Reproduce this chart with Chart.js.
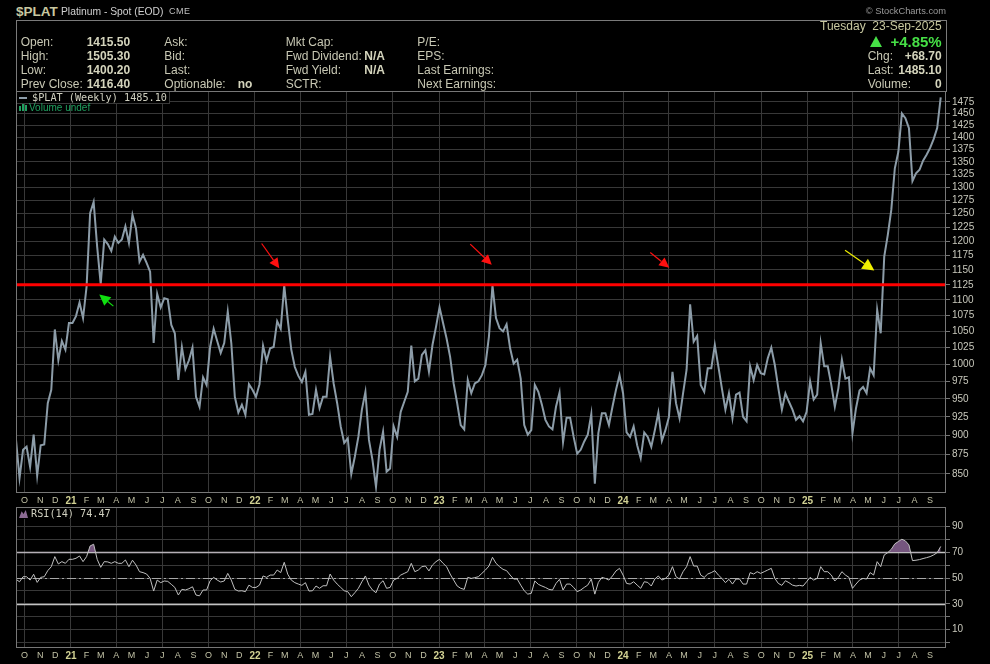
<!DOCTYPE html>
<html>
<head>
<meta charset="utf-8">
<script src="https://cdn.jsdelivr.net/npm/chart.js@4.4.1/dist/chart.umd.min.js"></script>
<style>
  html, body { margin: 0; padding: 0; background: #000; width: 990px; height: 664px; overflow: hidden; }
  canvas { position: absolute; left: 0; }
  .t { position: absolute; white-space: pre; line-height: 1; font-family: "Liberation Sans", Arial, sans-serif; }
  .l { font-size: 12px; color: #c8c8b4; }
  .v { font-size: 12px; color: #d4d4bc; font-weight: bold; }
  .m { font-family: "DejaVu Sans Mono", monospace; font-size: 10.2px; color: #d0d0c0; }
  #box { position: absolute; left: 16px; top: 20px; width: 929px; height: 71px; border: 1px solid #7a7a7a; border-bottom: none; }
</style>
</head>
<body>
<canvas id="priceChart" width="990" height="416" style="top:91px"></canvas>
<canvas id="rsiChart" width="990" height="155" style="top:507px"></canvas>

<div class="t" style="left:16px;top:4.5px;font-size:13.5px;font-weight:bold;color:#c8c8a0">$PLAT</div>
<div class="t" style="left:61px;top:6.6px;font-size:10.3px;color:#d0d0d0">Platinum - Spot (EOD)</div>
<div class="t" style="left:169px;top:7.4px;font-size:9px;letter-spacing:0.5px;color:#c0c0c0">CME</div>
<div class="t" style="right:44px;top:7.1px;font-size:9.3px;color:#9a9a9a">© StockCharts.com</div>

<div id="box"></div>
<div class="t l" style="left:20.7px;top:35.8px">Open:</div>
<div class="t l" style="left:20.7px;top:50px">High:</div>
<div class="t l" style="left:20.7px;top:64.2px">Low:</div>
<div class="t l" style="left:20.7px;top:78.4px">Prev Close:</div>
<div class="t v" style="left:86.7px;top:35.8px">1415.50</div>
<div class="t v" style="left:86.7px;top:50px">1505.30</div>
<div class="t v" style="left:86.7px;top:64.2px">1400.20</div>
<div class="t v" style="left:86.7px;top:78.4px">1416.40</div>
<div class="t l" style="left:164.3px;top:35.8px">Ask:</div>
<div class="t l" style="left:164.3px;top:50px">Bid:</div>
<div class="t l" style="left:164.3px;top:64.2px">Last:</div>
<div class="t l" style="left:164.3px;top:78.4px">Optionable:</div>
<div class="t v" style="left:237.7px;top:78.4px">no</div>
<div class="t l" style="left:285.7px;top:35.8px">Mkt Cap:</div>
<div class="t l" style="left:285.7px;top:50px">Fwd Dividend:</div>
<div class="t l" style="left:285.7px;top:64.2px">Fwd Yield:</div>
<div class="t l" style="left:285.7px;top:78.4px">SCTR:</div>
<div class="t v" style="left:364.3px;top:50px">N/A</div>
<div class="t v" style="left:364.3px;top:64.2px">N/A</div>
<div class="t l" style="left:417.3px;top:35.8px">P/E:</div>
<div class="t l" style="left:417.3px;top:50px">EPS:</div>
<div class="t l" style="left:417.3px;top:64.2px">Last Earnings:</div>
<div class="t l" style="left:417.3px;top:78.4px">Next Earnings:</div>

<div class="t l" style="right:48.3px;top:20.3px;color:#c8c8a0">Tuesday  23-Sep-2025</div>
<div style="position:absolute;left:870px;top:36px;width:0;height:0;border-left:6px solid transparent;border-right:6px solid transparent;border-bottom:11px solid #46e046"></div>
<div class="t" style="right:48.3px;top:33.8px;font-size:15px;font-weight:bold;color:#46e046">+4.85%</div>
<div class="t l" style="left:867.7px;top:50px">Chg:</div>
<div class="t v" style="right:48.3px;top:50px">+68.70</div>
<div class="t l" style="left:867.7px;top:64.2px">Last:</div>
<div class="t v" style="right:48.3px;top:64.2px">1485.10</div>
<div class="t l" style="left:867.7px;top:78.4px">Volume:</div>
<div class="t v" style="right:48.3px;top:78.4px">0</div>

<div style="position:absolute;left:19px;top:97px;width:8px;height:2px;background:#8c9ca8"></div>
<div class="t m" style="left:32px;top:93.3px">$PLAT (Weekly) 1485.10</div>
<div style="position:absolute;left:19px;top:106px;width:2px;height:5px;background:#20a060"></div>
<div style="position:absolute;left:22px;top:104px;width:2px;height:7px;background:#20a060"></div>
<div style="position:absolute;left:25px;top:105px;width:2px;height:6px;background:#20a060"></div>
<div class="t" style="left:29px;top:103.2px;font-size:10px;color:#20a060">Volume undef</div>

<div style="position:absolute;left:19px;top:510px;width:9px;height:8px;background:#8a6a92;clip-path:polygon(0 100%,30% 15%,50% 50%,75% 0,100% 100%)"></div>
<div class="t m" style="left:31px;top:509.3px">RSI(14) 74.47</div>

<script>
// weekly closes, first bar = week of 14-Sep-2020, last = week of 22-Sep-2025
const priceValues = [
  894, 845, 881, 885, 859, 901, 848, 887, 888, 944,
  963, 1053, 1006, 1035, 1022, 1063, 1063, 1074, 1096, 1071,
  1122, 1251, 1272, 1190, 1126, 1203, 1195, 1183, 1208, 1197,
  1203, 1227, 1197, 1248, 1223, 1164, 1176, 1162, 1147, 1032,
  1110, 1088, 1103, 1101, 1060, 1047, 977, 1026, 993, 1006,
  1025, 953, 939, 981, 970, 1026, 1054, 1035, 1017, 1032,
  1081, 1032, 953, 931, 942, 928, 971, 963, 953, 971,
  1028, 1005, 1024, 1026, 1066, 1054, 1124, 1068, 1022, 996,
  983, 974, 989, 928, 929, 963, 937, 953, 953, 1011,
  972, 944, 912, 890, 896, 850, 872, 898, 935, 960,
  894, 868, 834, 881, 905, 853, 857, 912, 898, 932,
  946, 960, 1028, 975, 979, 1014, 1021, 989, 1029, 1057,
  1088, 1063, 1039, 1011, 972, 944, 914, 908, 977, 958,
  972, 975, 984, 999, 1042, 1124, 1071, 1055, 1050, 1061,
  1024, 1001, 1007, 979, 914, 901, 907, 970, 960, 942,
  921, 912, 908, 939, 959, 891, 924, 924, 898, 876,
  881, 892, 901, 929, 838, 903, 930, 930, 914, 939,
  963, 984, 958, 904, 898, 912, 887, 870, 904, 898,
  885, 907, 931, 893, 907, 925, 989, 944, 923, 958,
  992, 1093, 1034, 1043, 970, 960, 994, 994, 1029, 997,
  965, 935, 958, 923, 956, 959, 925, 919, 997, 977,
  999, 987, 985, 1009, 1025, 999, 965, 935, 958, 946,
  935, 921, 926, 919, 932, 975, 949, 956, 1032, 997,
  997, 970, 939, 965, 1007, 979, 981, 903, 937, 962,
  967, 958, 994, 984, 1084, 1047, 1173, 1211, 1257, 1337,
  1370, 1450, 1440, 1419, 1312, 1327, 1334, 1352, 1364, 1378,
  1396, 1419, 1485.1
];

const rsiValues = [
  49.0, 47.1, 51.0, 51.0, 48.4, 52.9, 46.6, 50.5, 51.0, 55.7,
  58.8, 66.6, 60.9, 62.7, 61.4, 64.5, 64.5, 65.3, 67.1, 62.7,
  66.6, 74.9, 76.2, 64.5, 58.3, 62.7, 62.5, 61.4, 62.7, 61.4,
  61.4, 64.0, 58.8, 63.8, 60.1, 54.9, 54.2, 53.1, 49.7, 39.9,
  48.4, 46.4, 47.7, 47.4, 45.1, 42.7, 36.8, 41.2, 40.7, 41.7,
  43.2, 36.8, 36.2, 40.7, 40.7, 47.9, 50.5, 48.4, 46.9, 47.7,
  53.6, 48.4, 41.2, 39.9, 40.1, 39.4, 44.5, 42.7, 42.7, 44.5,
  51.6, 50.5, 52.3, 52.3, 56.2, 54.2, 62.2, 52.9, 48.4, 46.4,
  45.3, 44.3, 46.4, 39.9, 40.1, 43.8, 42.0, 44.0, 44.0, 53.1,
  48.4, 45.3, 42.7, 40.1, 39.4, 35.5, 38.6, 42.0, 47.1, 51.6,
  44.5, 40.7, 38.6, 45.3, 47.9, 42.0, 42.7, 48.4, 49.7, 52.3,
  53.6, 54.9, 61.4, 54.9, 56.2, 58.8, 59.3, 55.5, 60.1, 62.7,
  64.5, 61.4, 58.8, 53.1, 48.4, 43.8, 42.0, 41.2, 50.5, 49.7,
  50.3, 51.0, 53.6, 56.2, 59.3, 66.1, 61.4, 58.8, 56.7, 55.7,
  52.3, 49.2, 49.2, 44.5, 40.1, 37.5, 38.1, 47.7, 45.1, 43.8,
  42.7, 41.2, 40.7, 45.8, 49.0, 40.7, 45.3, 45.3, 42.7, 39.4,
  40.7, 42.7, 44.5, 49.2, 37.5, 46.6, 50.5, 49.7, 48.4, 51.6,
  55.5, 57.5, 52.3, 45.8, 45.3, 47.1, 44.5, 42.0, 47.1, 46.6,
  43.8, 49.2, 51.6, 48.4, 49.7, 52.3, 58.8, 51.0, 49.2, 54.9,
  58.8, 66.6, 59.3, 59.3, 52.3, 50.5, 53.1, 54.2, 55.7, 52.3,
  49.7, 46.4, 49.0, 45.3, 49.2, 49.2, 45.3, 45.3, 54.2, 53.1,
  54.9, 53.6, 54.9, 56.2, 57.5, 49.7, 45.8, 44.3, 47.9, 46.4,
  44.5, 43.8, 44.3, 43.8, 47.1, 50.5, 48.4, 49.7, 58.8, 54.9,
  54.9, 52.3, 47.7, 50.5, 54.9, 52.3, 50.5, 42.0, 45.3, 48.4,
  49.7, 49.2, 54.2, 52.3, 62.7, 58.8, 67.9, 69.7, 72.3, 76.5,
  78.3, 80.1, 78.8, 75.7, 63.5, 63.8, 64.3, 65.1, 65.8, 66.6,
  67.9, 69.7, 74.47
];

// month labels on the time axis, Oct 2020 .. Sep 2025
const monthLabels = [
  'O', 'N', 'D',
  '21', 'F', 'M', 'A', 'M', 'J', 'J', 'A', 'S', 'O', 'N', 'D',
  '22', 'F', 'M', 'A', 'M', 'J', 'J', 'A', 'S', 'O', 'N', 'D',
  '23', 'F', 'M', 'A', 'M', 'J', 'J', 'A', 'S', 'O', 'N', 'D',
  '24', 'F', 'M', 'A', 'M', 'J', 'J', 'A', 'S', 'O', 'N', 'D',
  '25', 'F', 'M', 'A', 'M', 'J', 'J', 'A', 'S'
];
const priceTicks = [850, 875, 900, 925, 950, 975, 1000, 1025, 1050, 1075, 1100, 1125, 1150,
  1175, 1200, 1225, 1250, 1275, 1300, 1325, 1350, 1375, 1400, 1425, 1450, 1475];
const rsiGrid = [0, 10, 20, 30, 40, 50, 60, 70, 80, 90];
const rsiLabels = [10, 30, 50, 70, 90];

const supportLevel = 1125;
// hand drawn arrows: [week index, price] tail -> tip
const arrows = [
  { from: [69.6, 1196], to: [74.6, 1153], color: '#ff1010', head: 10 },
  { from: [128.7, 1195], to: [134.8, 1159], color: '#ff1010', head: 10 },
  { from: [179.7, 1180], to: [185.1, 1154], color: '#ff1010', head: 10 },
  { from: [234.9, 1184], to: [243.2, 1149], color: '#f0f000', head: 12 },
  { from: [27.6, 1090], to: [23.6, 1109], color: '#10e010', head: 11 }
];

const startDate = Date.UTC(2020, 8, 14);
const monthPos = monthLabels.map((_, k) => (Date.UTC(2020, 9 + k, 1) - startDate) / 6048e5);
const xMax = 263.5;
const gridColor = '#383838';
const frameColor = '#777777';
const fontFamily = '"Liberation Sans", Arial, sans-serif';

function isYear(i) { return /\d/.test(monthLabels[i] || ''); }

function monthAxis() {
  return {
    type: 'linear',
    min: 0,
    max: xMax,
    afterBuildTicks: s => { s.ticks = monthPos.map(v => ({ value: v })); },
    afterFit: s => { s.height = 14; s.paddingLeft = 0; s.paddingRight = 0; },
    ticks: {
      autoSkip: false,
      maxRotation: 0,
      padding: 2,
      callback: (v, i) => monthLabels[i],
      color: c => isYear(c.index) ? '#d2d294' : '#c2c2a6',
      font: c => isYear(c.index)
        ? { family: fontFamily, size: 10, weight: 'bold' }
        : { family: fontFamily, size: 9 }
    },
    grid: {
      drawTicks: false,
      color: c => (9 + c.index) % 3 === 0 ? gridColor : 'rgba(0,0,0,0)'
    },
    border: { display: false }
  };
}

function drawArrow(ctx, x1, y1, x2, y2, color, len) {
  const a = Math.atan2(y2 - y1, x2 - x1);
  const w = len * 0.5;
  const bx = x2 - len * Math.cos(a), by = y2 - len * Math.sin(a);
  ctx.strokeStyle = color;
  ctx.fillStyle = color;
  ctx.lineWidth = 1.2;
  ctx.beginPath();
  ctx.moveTo(x1, y1);
  ctx.lineTo(bx, by);
  ctx.stroke();
  ctx.beginPath();
  ctx.moveTo(x2, y2);
  ctx.lineTo(bx - w * Math.sin(a), by + w * Math.cos(a));
  ctx.lineTo(bx + w * Math.sin(a), by - w * Math.cos(a));
  ctx.closePath();
  ctx.fill();
}

function frame(ctx, a) {
  ctx.strokeStyle = frameColor;
  ctx.lineWidth = 1;
  ctx.strokeRect(a.left + 0.5, a.top + 0.5, a.right - a.left - 1, a.bottom - a.top - 1);
}

const priceOverlay = {
  id: 'priceOverlay',
  beforeDatasetsDraw(chart) {
    const { ctx, chartArea: a } = chart;
    ctx.save();
    ctx.fillStyle = '#000';
    ctx.fillRect(a.left + 1, a.top + 1, 152, 11);
    ctx.strokeStyle = gridColor;
    ctx.strokeRect(a.left + 0.5, a.top + 0.5, 153, 12);
    ctx.restore();
  },
  afterDatasetsDraw(chart) {
    const { ctx, chartArea: a, scales: { x, y } } = chart;
    ctx.save();
    const ry = y.getPixelForValue(supportLevel);
    ctx.strokeStyle = '#ff0000';
    ctx.lineWidth = 3;
    ctx.beginPath();
    ctx.moveTo(a.left, ry);
    ctx.lineTo(a.right, ry);
    ctx.stroke();
    arrows.forEach(ar => drawArrow(ctx,
      x.getPixelForValue(ar.from[0]), y.getPixelForValue(ar.from[1]),
      x.getPixelForValue(ar.to[0]), y.getPixelForValue(ar.to[1]), ar.color, ar.head));
    frame(ctx, a);
    ctx.restore();
  }
};

const rsiOverlay = {
  id: 'rsiOverlay',
  beforeDatasetsDraw(chart) {
    const { ctx, chartArea: a, scales: { y } } = chart;
    ctx.save();
    ctx.fillStyle = '#000';
    ctx.fillRect(a.left + 1, a.top + 1, 96, 11);
    [70, 30].forEach(lv => {
      const py = Math.round(y.getPixelForValue(lv)) + 0.5;
      ctx.strokeStyle = '#c4c4c4';
      ctx.lineWidth = 1.3;
      ctx.beginPath();
      ctx.moveTo(a.left, py);
      ctx.lineTo(a.right, py);
      ctx.stroke();
    });
    const my = Math.round(y.getPixelForValue(50)) + 0.5;
    ctx.strokeStyle = '#a8a8a8';
    ctx.lineWidth = 1;
    ctx.setLineDash([9, 3, 2, 3]);
    ctx.beginPath();
    ctx.moveTo(a.left, my);
    ctx.lineTo(a.right, my);
    ctx.stroke();
    ctx.restore();
  },
  afterDatasetsDraw(chart) {
    const { ctx, chartArea: a } = chart;
    ctx.save();
    frame(ctx, a);
    ctx.restore();
  }
};

new Chart(document.getElementById('priceChart').getContext('2d'), {
  type: 'line',
  data: {
    datasets: [{
      data: priceValues.map((v, i) => ({ x: i, y: v })),
      borderColor: '#8c9ca8',
      borderWidth: 2,
      pointRadius: 0,
      tension: 0,
      fill: false
    }]
  },
  options: {
    responsive: false,
    animation: false,
    layout: { padding: { left: 16, top: 0, right: 0, bottom: 0 } },
    plugins: { legend: { display: false }, tooltip: { enabled: false } },
    scales: {
      x: monthAxis(),
      y: {
        type: 'logarithmic',
        position: 'right',
        min: 826.4,
        max: 1499.2,
        afterBuildTicks: s => { s.ticks = priceTicks.map(v => ({ value: v })); },
        afterFit: s => { s.width = 44; s.paddingTop = 0; s.paddingBottom = 0; },
        ticks: {
          autoSkip: false,
          padding: 2,
          color: '#c8c8bc',
          font: { family: fontFamily, size: 10 },
          callback: v => String(v)
        },
        grid: { color: gridColor, tickLength: 4, tickColor: frameColor },
        border: { display: false }
      }
    }
  },
  plugins: [priceOverlay]
});

new Chart(document.getElementById('rsiChart').getContext('2d'), {
  type: 'line',
  data: {
    datasets: [{
      data: rsiValues.map((v, i) => ({ x: i, y: v })),
      borderColor: '#c0c0c0',
      borderWidth: 1,
      pointRadius: 0,
      tension: 0,
      fill: { target: { value: 70 }, above: '#75567e', below: 'rgba(0,0,0,0)' }
    }]
  },
  options: {
    responsive: false,
    animation: false,
    layout: { padding: { left: 16, top: 0, right: 0, bottom: 0 } },
    plugins: { legend: { display: false }, tooltip: { enabled: false } },
    scales: {
      x: monthAxis(),
      y: {
        type: 'linear',
        position: 'right',
        min: -4.3,
        max: 105.1,
        afterBuildTicks: s => { s.ticks = rsiGrid.map(v => ({ value: v })); },
        afterFit: s => { s.width = 44; s.paddingTop = 0; s.paddingBottom = 0; },
        ticks: {
          autoSkip: false,
          padding: 2,
          color: '#c8c8bc',
          font: { family: fontFamily, size: 10 },
          callback: v => rsiLabels.includes(v) ? String(v) : ''
        },
        grid: { color: gridColor, tickLength: 4, tickColor: frameColor },
        border: { display: false }
      }
    }
  },
  plugins: [rsiOverlay]
});
</script>
</body>
</html>
